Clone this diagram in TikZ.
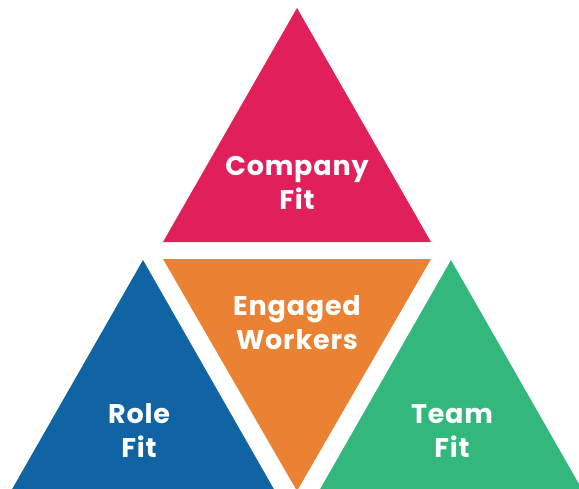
\documentclass[tikz,border=0pt]{standalone}
\usepackage{fontspec}
\setmainfont{Poppins}[UprightFont=* Bold, BoldFont=* Bold, LetterSpace=3]
\definecolor{cpink}{HTML}{E11F5B}
\definecolor{corange}{HTML}{EB8132}
\definecolor{cblue}{HTML}{1064A3}
\definecolor{cgreen}{HTML}{32B77D}
\begin{document}
\begin{tikzpicture}[x=1pt,y=-1pt,
  lbl/.style={text=white,align=center,font=\fontsize{27}{34}\selectfont,inner sep=0pt}]
\useasboundingbox (0,0) rectangle (579,488);
\fill[cpink] (297,8) -- (431,242) -- (163,242) -- cycle;
\fill[corange] (163,259) -- (431,259) -- (297,491) -- cycle;
\fill[cblue] (143,260) -- (275,491) -- (11,491) -- cycle;
\fill[cgreen] (451,260) -- (583,491) -- (319,491) -- cycle;
\node[lbl] (company) at (297,183) {Company\\Fit};
\node[lbl] (engaged) at (297,323) {Engaged\\Workers};
\node[lbl] (role) at (139,431) {Role\\Fit};
\node[lbl] (team) at (452,431) {Team\\Fit};
\end{tikzpicture}
\end{document}
